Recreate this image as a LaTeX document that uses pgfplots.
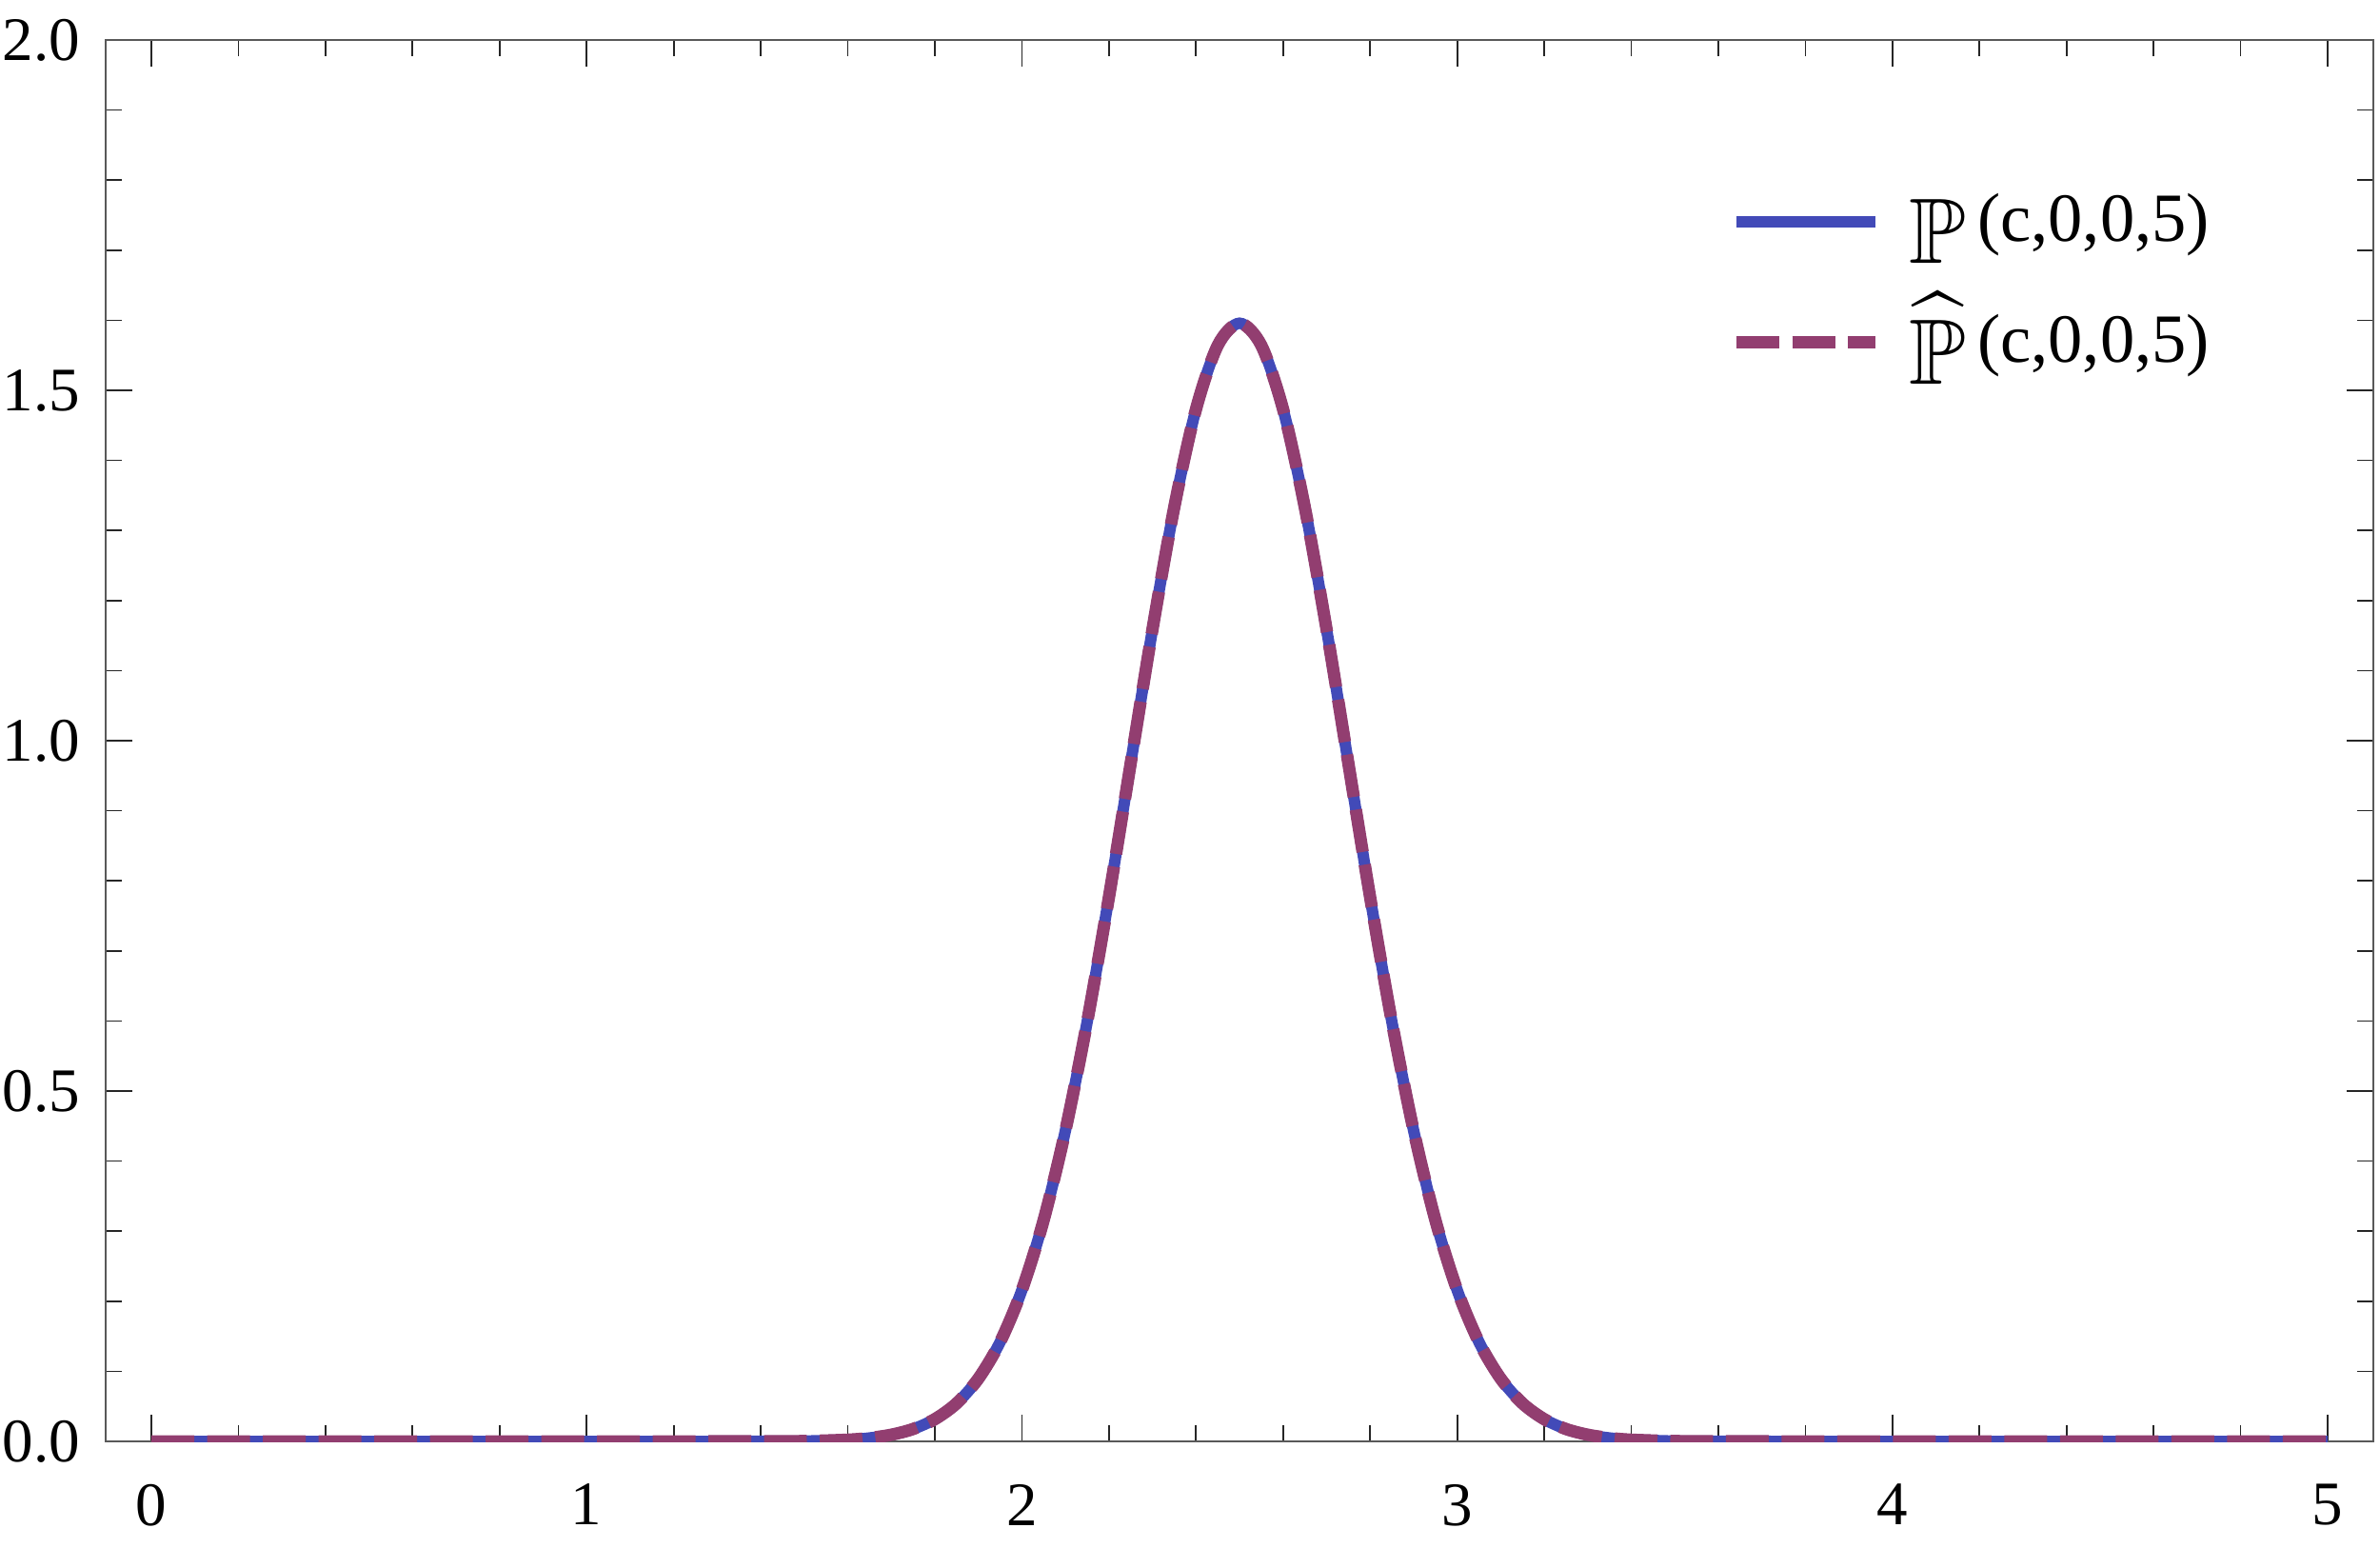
\documentclass[border=0pt]{standalone}
\usepackage{amsmath,amssymb}
\usepackage{fontspec}
\setmainfont{Liberation Serif}
\usepackage{pgfplots}
\pgfplotsset{compat=1.18}
\usepackage{pgfplotstable}
\definecolor{pblue}{RGB}{66,74,184}
\definecolor{pplum}{RGB}{146,62,112}

\pgfplotstableread{
x     y
0.00  0
1.00  0
1.40  0.0001
1.50  0.0005
1.60  0.0024
1.65  0.0049
1.70  0.0095
1.75  0.0177
1.80  0.0317
1.85  0.0543
1.90  0.0896
1.95  0.1419
2.00  0.2160
2.05  0.3158
2.10  0.4437
2.15  0.5989
2.20  0.7768
2.25  0.9679
2.30  1.1588
2.35  1.3330
2.40  1.4731
2.45  1.5642
2.50  1.5958
2.55  1.5642
2.60  1.4731
2.65  1.3330
2.70  1.1588
2.75  0.9679
2.80  0.7768
2.85  0.5989
2.90  0.4437
2.95  0.3158
3.00  0.2160
3.05  0.1419
3.10  0.0896
3.15  0.0543
3.20  0.0317
3.25  0.0177
3.30  0.0095
3.35  0.0049
3.40  0.0024
3.50  0.0005
3.60  0.0001
4.00  0
5.00  0
}\exact
\pgfplotstableread{
x     y
0.00  0
1.00  0
1.40  0.0001
1.50  0.0005
1.60  0.0024
1.65  0.0049
1.70  0.0095
1.75  0.0177
1.80  0.0317
1.85  0.0543
1.90  0.0896
1.95  0.1419
2.00  0.2160
2.05  0.3158
2.10  0.4437
2.15  0.5989
2.20  0.7768
2.25  0.9679
2.30  1.1588
2.35  1.3330
2.40  1.4731
2.45  1.5642
2.50  1.5958
2.55  1.5642
2.60  1.4731
2.65  1.3330
2.70  1.1588
2.75  0.9679
2.80  0.7768
2.85  0.5989
2.90  0.4437
2.95  0.3158
3.00  0.2160
3.05  0.1419
3.10  0.0896
3.15  0.0543
3.20  0.0317
3.25  0.0177
3.30  0.0095
3.35  0.0049
3.40  0.0024
3.50  0.0005
3.60  0.0001
4.00  0
5.00  0
}\approxd

\newcommand{\bbP}{\raisebox{-4.6pt}[0pt][0pt]{\fontsize{19.5}{20}\selectfont$\mathbb{P}$}}
\newcommand{\bbPhat}{\raisebox{-4.6pt}[0pt][0pt]{\fontsize{19.5}{20}\selectfont$\widehat{\mathbb{P}}$}}

\begin{document}
\fontsize{13}{15}\selectfont
\begin{tikzpicture}
\begin{axis}[name=ax,
  scale only axis, width=476.4pt, height=294.4pt,
  xmin=-0.105, xmax=5.105, ymin=0, ymax=2,
  xtick={0,1,2,3,4,5}, ytick={0,0.5,1,1.5,2},
  minor x tick num=4, minor y tick num=4,
  major tick length=5.6pt, minor tick length=3.4pt,
  tick style={black!85, line width=0.35pt},
  axis line style={black!65, line width=0.5pt},
  tick align=inside,
  /pgf/number format/assume math mode=true,
  tick label style={font=\fontsize{13}{15}\selectfont, inner sep=0pt},
  x tick label style={yshift=-8.8pt},
  y tick label style={xshift=-5.2pt},
  yticklabel={\pgfmathprintnumber[fixed,fixed zerofill,precision=1]{\tick}},
  legend style={draw=none, fill=none, inner sep=0pt,
    at={(rel axis cs:0.716,0.898)}, anchor=north west,
    font=\fontsize{14.5}{16}\selectfont, row sep=9.3pt},
  legend cell align=left,
  legend image code/.code={\draw[#1] (0pt,0pt) -- (29.2pt,0pt); \path (33pt,0pt);},
  clip=true,
]
\addplot[pblue, line width=2.4pt, smooth] table[x=x,y=y] {\exact};
\addlegendentry{\bbP\,(c,0,0,5)}
\addplot[pplum, line width=2.6pt, smooth, dash pattern=on 9pt off 2.7pt] table[x=x,y=y] {\approxd};
\addlegendentry{\bbPhat\,(c,0,0,5)}
\end{axis}
\path ([shift={(-22.2pt,-22.2pt)}]ax.south west) rectangle ([shift={(1.4pt,8.4pt)}]ax.north east);
\end{tikzpicture}
\end{document}
